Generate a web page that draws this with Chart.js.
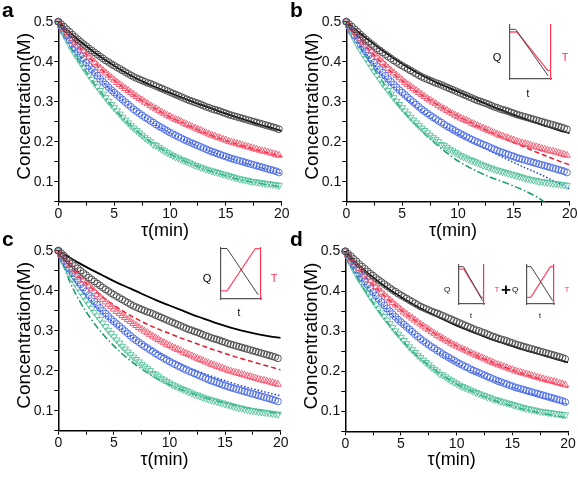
<!DOCTYPE html>
<html>
<head>
<meta charset="utf-8">
<script src="https://cdn.jsdelivr.net/npm/chart.js@4.4.1/dist/chart.umd.min.js"></script>
<style>
body{margin:0;background:#fff;width:578px;height:477px;position:relative;overflow:hidden;font-family:"Liberation Sans",Arial,sans-serif}
canvas{position:absolute}
.pl{position:absolute;font-weight:bold;font-size:21px;line-height:21px;color:#000}
.c{position:absolute;transform:translate(-50%,-50%);line-height:1;white-space:nowrap}
</style>
</head>
<body>
<canvas id="pa" width="300" height="242" style="left:0;top:0"></canvas>
<canvas id="pb" width="288" height="242" style="left:290px;top:0"></canvas>
<canvas id="pc" width="300" height="233" style="left:0;top:238px"></canvas>
<canvas id="pd" width="288" height="233" style="left:290px;top:238px"></canvas>
<canvas id="ib"></canvas>
<canvas id="ic"></canvas>
<canvas id="id1"></canvas>
<canvas id="id2"></canvas>

<div class="pl" style="left:2px;top:-1px">a</div>
<div class="pl" style="left:290px;top:-1px">b</div>
<div class="pl" style="left:2px;top:228px">c</div>
<div class="pl" style="left:290px;top:228px">d</div>

<div class="c" style="left:497px;top:57px;font-size:11px">Q</div>
<div class="c" style="left:565px;top:57px;font-size:11px;color:#ff3355">T</div>
<div class="c" style="left:528px;top:94px;font-size:10px">t</div>

<div class="c" style="left:207px;top:278px;font-size:11px">Q</div>
<div class="c" style="left:274px;top:278px;font-size:11px;color:#ff3355">T</div>
<div class="c" style="left:239px;top:313px;font-size:10px">t</div>

<div class="c" style="left:447px;top:290px;font-size:8px">Q</div>
<div class="c" style="left:497px;top:290px;font-size:8px;color:#ff3355">T</div>
<div class="c" style="left:471px;top:315px;font-size:7px">t</div>
<div class="c" style="left:506px;top:289px;font-size:17px;font-weight:bold">+</div>
<div class="c" style="left:515px;top:290px;font-size:8px">Q</div>
<div class="c" style="left:567px;top:290px;font-size:8px;color:#ff3355">T</div>
<div class="c" style="left:540px;top:315px;font-size:7px">t</div>

<script>
// measured data (same in all four panels)
const tMarker = [0,0.25,0.5,0.75,1,1.25,1.5,1.75,2,2.25,2.5,2.75,3,3.25,3.5,3.75,4,4.25,4.5,4.75,
  5,5.25,5.5,5.75,6,6.25,6.5,6.75,7,7.25,7.5,7.75,8,8.25,8.5,8.75,9,9.25,9.5,9.75,
  10,10.25,10.5,10.75,11,11.25,11.5,11.75,12,12.25,12.5,12.75,13,13.25,13.5,13.75,14,14.25,14.5,14.75,
  15,15.25,15.5,15.75,16,16.25,16.5,16.75,17,17.25,17.5,17.75,18,18.25,18.5,18.75,19,19.25,19.5,19.75];
const blackMk = [0.500,0.494,0.488,0.481,0.475,0.468,0.462,0.456,0.450,0.444,0.439,0.433,0.428,0.423,0.418,0.413,0.408,0.403,0.399,0.394,
  0.390,0.386,0.382,0.378,0.374,0.370,0.366,0.362,0.359,0.356,0.353,0.350,0.347,0.345,0.342,0.339,0.336,0.333,0.330,0.327,
  0.324,0.321,0.318,0.315,0.312,0.309,0.306,0.303,0.301,0.298,0.296,0.293,0.290,0.287,0.285,0.282,0.280,0.278,0.276,0.273,
  0.271,0.268,0.266,0.264,0.262,0.260,0.258,0.256,0.254,0.252,0.250,0.248,0.246,0.244,0.242,0.240,0.238,0.236,0.234,0.231];
const redMk = [0.500,0.491,0.482,0.473,0.465,0.457,0.449,0.441,0.434,0.426,0.419,0.412,0.405,0.398,0.391,0.384,0.378,0.372,0.366,0.360,
  0.354,0.348,0.343,0.338,0.333,0.328,0.323,0.318,0.313,0.308,0.304,0.299,0.295,0.290,0.286,0.282,0.278,0.274,0.270,0.266,
  0.263,0.259,0.256,0.253,0.250,0.246,0.243,0.240,0.237,0.234,0.231,0.228,0.225,0.222,0.219,0.216,0.214,0.211,0.209,0.206,
  0.204,0.201,0.199,0.197,0.195,0.193,0.191,0.189,0.187,0.185,0.183,0.181,0.179,0.177,0.176,0.174,0.172,0.170,0.168,0.166];
const blueMk = [0.500,0.488,0.476,0.465,0.455,0.445,0.435,0.425,0.416,0.407,0.398,0.389,0.381,0.373,0.365,0.357,0.350,0.343,0.336,0.329,
  0.323,0.317,0.311,0.305,0.299,0.293,0.287,0.281,0.276,0.271,0.266,0.261,0.257,0.252,0.248,0.243,0.239,0.235,0.231,0.227,
  0.223,0.219,0.216,0.212,0.209,0.205,0.202,0.199,0.196,0.193,0.190,0.187,0.184,0.181,0.178,0.175,0.173,0.170,0.168,0.165,
  0.163,0.160,0.158,0.156,0.154,0.152,0.150,0.148,0.146,0.144,0.142,0.140,0.138,0.136,0.134,0.132,0.130,0.128,0.126,0.123];
const tealMk = [0.500,0.483,0.468,0.455,0.442,0.430,0.419,0.408,0.397,0.386,0.376,0.366,0.356,0.346,0.337,0.328,0.319,0.310,0.301,0.293,
  0.285,0.277,0.269,0.261,0.254,0.247,0.240,0.234,0.228,0.222,0.216,0.210,0.205,0.200,0.193,0.191,0.186,0.181,0.177,0.173,
  0.169,0.165,0.162,0.159,0.156,0.153,0.150,0.147,0.144,0.141,0.139,0.136,0.134,0.131,0.129,0.127,0.125,0.123,0.121,0.119,
  0.117,0.115,0.113,0.111,0.109,0.107,0.106,0.104,0.103,0.101,0.100,0.099,0.098,0.097,0.096,0.095,0.094,0.093,0.092,0.091];

// model curves
const tLine = [0,1,2,3,4,5,6,7,8,9,10,11,12,13,14,15,16,17,18,19,20];
const aBlack = [0.5,0.474,0.450,0.428,0.408,0.390,0.373,0.358,0.345,0.333,0.322,0.311,0.300,0.290,0.280,0.270,0.261,0.252,0.243,0.235,0.227];
const aRed   = [0.5,0.465,0.433,0.404,0.377,0.353,0.332,0.312,0.294,0.277,0.262,0.249,0.236,0.224,0.213,0.203,0.194,0.186,0.178,0.170,0.163];
const aBlue  = [0.5,0.454,0.414,0.380,0.349,0.322,0.298,0.276,0.256,0.238,0.222,0.208,0.195,0.183,0.172,0.162,0.153,0.144,0.136,0.128,0.120];
const aTeal  = [0.5,0.441,0.395,0.354,0.317,0.283,0.253,0.228,0.205,0.186,0.169,0.155,0.143,0.132,0.123,0.115,0.107,0.101,0.096,0.091,0.087];

const bBlack = [0.5,0.476,0.454,0.433,0.413,0.395,0.378,0.363,0.349,0.337,0.325,0.313,0.301,0.289,0.278,0.267,0.257,0.247,0.238,0.229,0.221];
const bRed   = [0.5,0.463,0.431,0.402,0.375,0.352,0.331,0.312,0.295,0.279,0.264,0.250,0.236,0.223,0.210,0.198,0.186,0.174,0.163,0.152,0.142];
const bBlue  = [0.5,0.452,0.411,0.375,0.344,0.317,0.293,0.272,0.253,0.236,0.220,0.204,0.189,0.175,0.161,0.148,0.135,0.123,0.110,0.096,0.082];
const bTeal  = [0.5,0.450,0.403,0.360,0.319,0.280,0.249,0.220,0.195,0.172,0.152,0.136,0.122,0.110,0.100,0.089,0.077,0.063,0.045,0.030,0.015];

const cBlack = [0.5,0.483,0.467,0.452,0.438,0.424,0.411,0.399,0.386,0.374,0.363,0.352,0.341,0.331,0.321,0.312,0.304,0.297,0.291,0.286,0.282];
const cRed   = [0.5,0.462,0.432,0.406,0.384,0.364,0.346,0.330,0.316,0.304,0.293,0.282,0.272,0.262,0.252,0.243,0.234,0.226,0.218,0.210,0.202];
const cBlue  = [0.5,0.445,0.405,0.372,0.344,0.319,0.297,0.277,0.260,0.244,0.230,0.217,0.205,0.194,0.184,0.175,0.166,0.158,0.151,0.144,0.137];
const cTeal  = [0.5,0.425,0.370,0.327,0.292,0.262,0.236,0.214,0.195,0.178,0.165,0.153,0.143,0.134,0.126,0.119,0.113,0.107,0.102,0.097,0.093];

const dBlack = [0.5,0.471,0.446,0.424,0.404,0.386,0.369,0.354,0.340,0.327,0.314,0.303,0.292,0.281,0.272,0.263,0.254,0.246,0.238,0.230,0.222];
const dRed   = [0.5,0.463,0.431,0.402,0.376,0.353,0.332,0.313,0.295,0.279,0.264,0.250,0.237,0.225,0.214,0.203,0.194,0.185,0.176,0.168,0.160];
const dBlue  = [0.5,0.452,0.412,0.377,0.347,0.320,0.296,0.274,0.255,0.237,0.221,0.206,0.193,0.181,0.170,0.160,0.150,0.141,0.133,0.125,0.117];
const dTeal  = [0.5,0.438,0.392,0.351,0.314,0.281,0.251,0.226,0.204,0.185,0.168,0.154,0.142,0.131,0.121,0.113,0.105,0.099,0.093,0.088,0.083];

const xTicks = ['0','5','10','15','20'];
const yTicks = ['0.1','0.2','0.3','0.4','0.5'];

// inset schematics: Q (black) and T (red) against t
const insBQx = [0,1.36,9.3],  insBQ = [9.2,9.2,0.6];
const insBTx = [0,1.7,9.2,10], insBT = [8.7,8.7,1.6,1.6];
const insCQx = [0,1.5,9.3],  insCQ = [9.9,9.9,0.8];
const insCTx = [0,1.5,8.6,10], insCT = [1.6,1.6,9.9,9.9];
const insD1Qx = [0,1.77,9.44], insD1Q = [9.57,9.57,0.86];
const insD1Tx = [0,1.94,8.86,10], insD1T = [8.93,8.93,1.71,1.71];
const insD2Qx = [0,1.52,9.47], insD2Q = [9.57,9.57,0.86];
const insD2Tx = [0,1.39,8.68,10], insD2T = [1.71,1.71,9.57,9.57];

Chart.defaults.font.family = '"Liberation Sans", Arial, sans-serif';
Chart.defaults.color = '#000';

function pts(xs, ys) { return xs.map((x, i) => ({x: x, y: ys[i]})); }

function mk(ys, color, style, rot, r) {
  return {data: pts(tMarker, ys), showLine: false, pointStyle: style, pointRotation: rot,
    pointRadius: r, pointBorderColor: color, pointBackgroundColor: 'rgba(0,0,0,0)', pointBorderWidth: 0.9, clip: false};
}
function ln(ys, color, dash, w) {
  return {data: pts(tLine, ys), pointRadius: 0, borderColor: color, borderWidth: w, borderDash: dash,
    cubicInterpolationMode: 'monotone', fill: false};
}

function panel(id, b, lines) {
  const yLh = 19 * 1.2, xLh = 18 * 1.2;
  new Chart(document.getElementById(id), {
    type: 'line',
    data: {datasets: [
      mk(blackMk, '#444', 'circle', 0, 3.4),
      mk(redMk, '#f4566e', 'triangle', 0, 4),
      mk(blueMk, '#4568e8', 'circle', 0, 3.4),
      mk(tealMk, '#52c29a', 'triangle', 180, 4),
      ln(lines[0], '#000', [], 1.8),
      ln(lines[1], '#e8192c', [5, 3], 1.5),
      ln(lines[2], '#1f3fd8', [1.5, 2], 1.5),
      ln(lines[3], '#159a68', [7, 2.5, 1.5, 2.5], 1.5)
    ]},
    options: {
      responsive: false, animation: false, devicePixelRatio: 1,
      layout: {autoPadding: false, padding: {top: b.t - b.y, right: b.x + b.w - b.r, left: 0, bottom: 0}},
      plugins: {legend: {display: false}, tooltip: {enabled: false}},
      scales: {
        x: {
          type: 'linear', min: 0, max: 20,
          ticks: {stepSize: 2.5, autoSkip: false, maxRotation: 0, padding: 0, font: {size: 14}, color: '#111',
            callback: v => xTicks.includes(String(v)) ? String(v) : ''},
          grid: {drawOnChartArea: false, tickLength: 4, color: '#000'},
          border: {color: '#000', width: 1.5},
          title: {display: true, text: 'τ(min)  ', font: {size: 18}, color: '#000',
            padding: {top: 0, bottom: b.y + b.h - b.b - 29 - xLh / 2}},
          afterFit: s => { s.height = b.y + b.h - b.b; }
        },
        y: {
          min: 0.05, max: 0.5,
          ticks: {stepSize: 0.05, autoSkip: false, padding: 1, font: {size: 14}, color: '#111',
            callback: v => { const s = String(+v.toFixed(2)); return yTicks.includes(s) ? s : ''; }},
          grid: {drawOnChartArea: false, tickLength: 4, color: '#000'},
          border: {color: '#000', width: 1.5},
          title: {display: true, text: '  Concentration(M)', font: {size: 19}, color: '#000',
            padding: {top: (b.l - 34) - b.x - yLh / 2, bottom: 0}},
          afterFit: s => { s.width = b.l - b.x; }
        }
      }
    }
  });
}

panel('pa', {x: 0, y: 0, w: 300, h: 242, l: 58.3, r: 281.7, t: 21.7, b: 201.7}, [aBlack, aRed, aBlue, aTeal]);
panel('pb', {x: 290, y: 0, w: 288, h: 242, l: 346.3, r: 569.7, t: 21.7, b: 201.7}, [bBlack, bRed, bBlue, bTeal]);
panel('pc', {x: 0, y: 238, w: 300, h: 233, l: 58.3, r: 280.7, t: 250.7, b: 430.7}, [cBlack, cRed, cBlue, cTeal]);
panel('pd', {x: 290, y: 238, w: 288, h: 233, l: 345.3, r: 568, t: 251.3, b: 431.3}, [dBlack, dRed, dBlue, dTeal]);

function inset(id, g, qx, q, tx, t) {
  const cv = document.getElementById(id);
  const w = Math.round(g.r - g.l), h = Math.round(g.b - g.t);
  cv.width = w + 4; cv.height = h + 4;
  cv.style.left = (g.l - 2) + 'px'; cv.style.top = (g.t - 2) + 'px';
  const axis = c => ({min: 0, max: 10, ticks: {display: false}, grid: {display: false}, border: {color: c, width: 1.2}});
  new Chart(cv, {
    type: 'line',
    data: {datasets: [
      {data: pts(qx, q), borderColor: '#444', borderWidth: 1, pointRadius: 0, tension: 0},
      {data: pts(tx, t), borderColor: '#ff4d6a', borderWidth: 1.3, pointRadius: 0, tension: 0}
    ]},
    options: {
      responsive: false, animation: false, devicePixelRatio: 1,
      layout: {autoPadding: false, padding: 2},
      plugins: {legend: {display: false}, tooltip: {enabled: false}},
      scales: {
        x: Object.assign({type: 'linear'}, axis('#555')),
        y: axis('#555'),
        y2: Object.assign({position: 'right'}, axis('#ff3355'))
      }
    }
  });
}

inset('ib', {l: 502.3, r: 559, t: 25, b: 87}, insBQx, insBQ, insBTx, insBT);
inset('ic', {l: 213.3, r: 269.3, t: 248, b: 307.3}, insCQx, insCQ, insCTx, insCT);
inset('id1', {l: 450.7, r: 492, t: 265.3, b: 312}, insD1Qx, insD1Q, insD1Tx, insD1T);
inset('id2', {l: 518.7, r: 562, t: 265.3, b: 312}, insD2Qx, insD2Q, insD2Tx, insD2T);
</script>
</body>
</html>
